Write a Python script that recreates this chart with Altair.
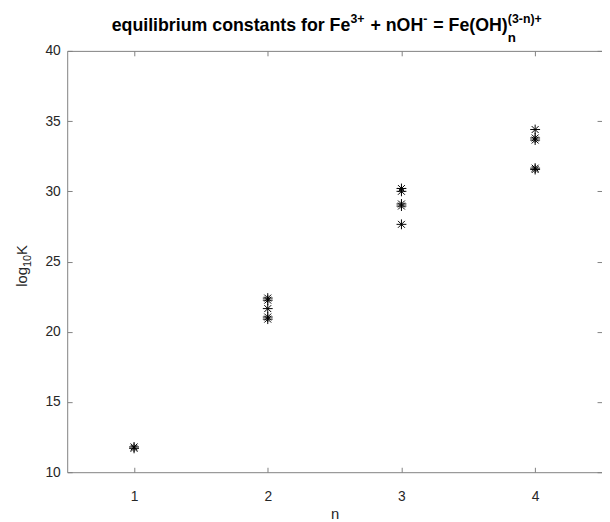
import altair as alt
import pandas as pd

# data
n_values = [1, 1, 2, 2, 2, 2, 2, 3, 3, 3, 3, 3, 4, 4, 4, 4, 4]
logK_values = [11.8, 11.7, 22.4, 22.25, 21.65, 21.05, 20.9,
               30.2, 30.0, 29.1, 28.95, 27.65, 34.4, 33.8, 33.65, 31.65, 31.55]

x_ticks = [1, 2, 3, 4]
y_ticks = [10, 15, 20, 25, 30, 35, 40]
x_domain = [0.5, 4.5]
y_domain = [10, 40]

# title pieces: (text, role) -> main / sup / sub
title_pieces = [("equilibrium constants for Fe", "main"), ("3+", "sup"),
                (" + nOH", "main"), ("-", "sup"), (" = Fe(OH)", "main"),
                ("n", "sub"), ("(3-n)+", "sup")]
ylabel_pieces = [("log", "main"), ("10", "sub"), ("K", "main")]

df = pd.DataFrame({"n": n_values, "logK": logK_values})

W, H = 542, 427
PAD_L, PAD_T = 60, 40
FONT = "Liberation Sans"
TXT = "#262626"
LINE = "#808080"

# Liberation Sans (Arial-metric) advance widths, per 1000 em
BOLD_W = {'e': 556, 'q': 611, 'u': 611, 'i': 278, 'l': 278, 'b': 611, 'r': 389,
          'm': 889, ' ': 278, 'c': 556, 'o': 611, 'n': 611, 's': 556, 't': 333,
          'a': 556, 'f': 333, 'F': 611, '+': 584, 'O': 778, 'H': 722, '=': 584,
          '(': 333, ')': 333, '-': 333, '3': 556}
REG_W = {'l': 222, 'o': 556, 'g': 556, '1': 556, '0': 556, 'K': 667}


def text_width(s, size, table):
    return sum(table.get(ch, 556) for ch in s) * size / 1000.0


xs = alt.Scale(domain=x_domain, nice=False, zero=False)
ys = alt.Scale(domain=y_domain, nice=False, zero=False)

asterisk = "M-1,0L1,0M0,-1L0,1M-0.7,-0.7L0.7,0.7M-0.7,0.7L0.7,-0.7"

base = alt.Chart(df)

main = base.mark_point(shape=asterisk, size=100, filled=False, color="black",
                       strokeWidth=1, opacity=1).encode(
    x=alt.X("n:Q", scale=xs,
            axis=alt.Axis(orient="bottom", values=x_ticks, ticks=False, grid=False,
                          domain=True, domainColor=LINE, labelFontSize=14,
                          labelColor=TXT, labelFont=FONT, labelPadding=18,
                          title="n", titleFont=FONT, titleFontSize=15,
                          titleFontWeight="normal", titleColor=TXT, titlePadding=3,
                          format="d")),
    y=alt.Y("logK:Q", scale=ys,
            axis=alt.Axis(orient="left", values=y_ticks, ticks=False, grid=False,
                          domain=True, domainColor=LINE, labelFontSize=14,
                          labelColor=TXT, labelFont=FONT, labelPadding=7,
                          title=None)),
)

ticks_bl = base.mark_point(opacity=0).encode(
    x=alt.X("n:Q", scale=xs,
            axis=alt.Axis(orient="top", offset=-H, values=x_ticks, labels=False,
                          domain=False, grid=False, ticks=True, tickSize=5,
                          tickColor=LINE, title=None)),
    y=alt.Y("logK:Q", scale=ys,
            axis=alt.Axis(orient="right", offset=-W, values=y_ticks, labels=False,
                          domain=False, grid=False, ticks=True, tickSize=5,
                          tickColor=LINE, title=None)),
)

ticks_tr = base.mark_point(opacity=0).encode(
    x=alt.X("n:Q", scale=xs,
            axis=alt.Axis(orient="bottom", offset=-H, values=x_ticks, labels=False,
                          domain=True, domainColor=LINE, grid=False, ticks=True,
                          tickSize=5, tickColor=LINE, title=None)),
    y=alt.Y("logK:Q", scale=ys,
            axis=alt.Axis(orient="left", offset=-W, values=y_ticks, labels=False,
                          domain=False, grid=False, ticks=True, tickSize=5,
                          tickColor=LINE, title=None)),
)

one = pd.DataFrame({"k": [0]})

# ---- title built from pieces with real super/subscripts ----
S_MAIN, S_SUP, S_SUB = 18, 12.5, 13.5
SIZES = {"main": S_MAIN, "sup": S_SUP, "sub": S_SUB}
SHIFT = {"main": 0, "sup": -8, "sub": 11}
title_base_y = 28 - 8 - PAD_T        # page y 28 -> plot coordinates
widths = [text_width(t, SIZES[r], BOLD_W) for t, r in title_pieces]
total = sum(w for w, (t, r) in zip(widths, title_pieces) if r != "sub")
cur = 330 - total / 2.0 - 8 - PAD_L
title_layers = []
sub_x = None
for w, (txt, role) in zip(widths, title_pieces):
    size = SIZES[role]
    x = cur
    if role == "sub":
        sub_x = cur
    elif role == "sup" and sub_x is not None:
        x = sub_x
    lead = len(txt) - len(txt.lstrip(" "))
    draw_x = x + lead * BOLD_W[" "] * size / 1000.0   # SVG drops leading blanks
    title_layers.append(
        alt.Chart(one).mark_text(text=txt.strip(), font=FONT, fontSize=size,
                                 fontWeight="bold", color="black", align="left",
                                 baseline="alphabetic").encode(
            x=alt.value(draw_x), y=alt.value(title_base_y + SHIFT[role]))
    )
    if role != "sub":
        cur = x + w + (1 if role == "sup" else 0)

# ---- y axis label log10K, rotated ----
YL_MAIN, YL_SUB = 15, 11
yl_widths = [text_width(t, YL_MAIN if r == "main" else YL_SUB, REG_W)
             for t, r in ylabel_pieces]
yl_total = sum(yl_widths)
cur_y = 266 + yl_total / 2.0 - 8 - PAD_T
ylabel_layers = []
for (txt, role), w in zip(ylabel_pieces, yl_widths):
    size = YL_MAIN if role == "main" else YL_SUB
    bx = 27 - 8 - PAD_L + (4 if role == "sub" else 0)
    ylabel_layers.append(
        alt.Chart(one).mark_text(text=txt, font=FONT, fontSize=size, color=TXT,
                                 align="left", baseline="alphabetic",
                                 angle=270).encode(
            x=alt.value(bx), y=alt.value(cur_y))
    )
    cur_y -= w

chart = alt.layer(ticks_bl, ticks_tr, main, *title_layers, *ylabel_layers).resolve_axis(
    x="independent", y="independent"
).properties(
    width=W, height=H,
    autosize=alt.AutoSizeParams(type="none"),
    padding={"left": PAD_L, "top": PAD_T, "right": 0, "bottom": 47},
).configure_view(stroke="transparent")

chart.save("out.html", embed_options={"renderer": "svg", "actions": False})
